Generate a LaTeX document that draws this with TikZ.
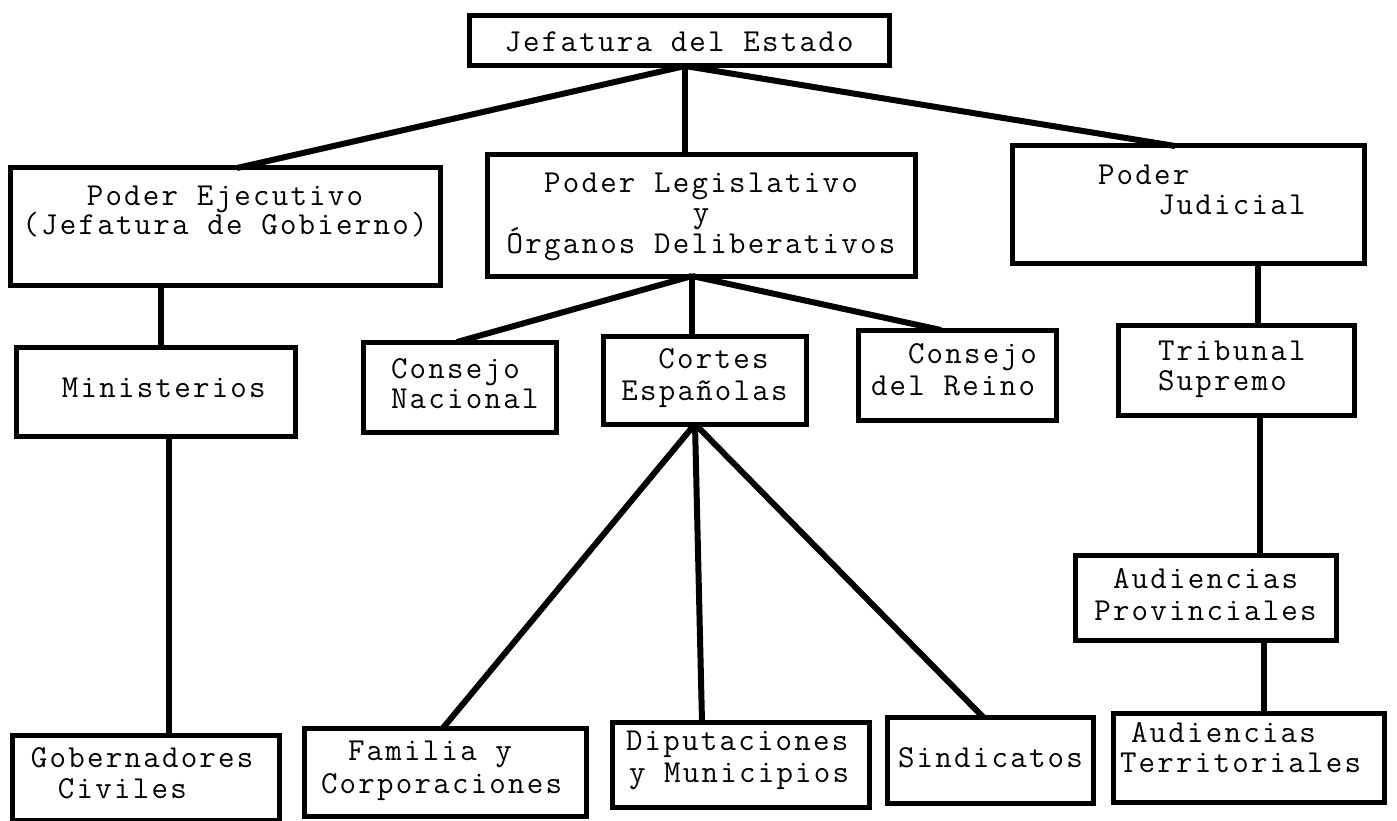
\documentclass[tikz,border=0pt]{standalone}
\usepackage{fontspec}
\newfontfamily\tw[LetterSpace=7]{Latin Modern Mono}
\newcommand\bt[4]{\parbox[c][#2pt][t]{#1pt}{\lineskiplimit=-1000pt\vspace*{#3pt}#4}}
\newcommand\fs{\rule{0pt}{26pt}}
\begin{document}
\begin{tikzpicture}[x=1pt,y=-1pt,
 box/.style={draw,line width=5pt,inner sep=0pt,outer sep=0pt,font=\tw\fontsize{32}{31}\selectfont},
 conn/.style={line width=6pt}]
\fill[white] (0,0) rectangle (1397,821);
\useasboundingbox (0,0) rectangle (1397,821);

\node[box] (jef) at (679,41) {\bt{420}{50}{10}{\centering\fs Jefatura del Estado}};
\node[box] (eje) at (225,226.5) {\bt{430}{117}{11}{\centering\fs Poder Ejecutivo\\[-2pt](Jefatura de Gobierno)}};
\node[box] (leg) at (701,215.5) {\bt{428}{121}{12}{\centering\fs Poder Legislativo\\[-1pt]y\\Órganos Deliberativos}};
\node[box] (jud) at (1188,204.5) {\bt{352}{117}{13}{\fs\hspace*{86pt}Poder\\[-1pt]\hspace*{146pt}Judicial}};
\node[box] (min) at (155.5,391.5) {\bt{279}{89}{24}{\fs\hspace*{46pt}Ministerios}};
\node[box] (gob) at (145.5,777.5) {\bt{267}{85}{6}{\fs\hspace*{19pt}Gobernadores\\\hspace*{46pt}Civiles}};
\node[box] (cn) at (459.5,387) {\bt{193}{90}{10}{\fs\hspace*{28pt}Consejo\\[-1pt]\hspace*{28pt}Nacional}};
\node[box] (ce) at (704.5,380) {\bt{203}{88}{6}{\centering\fs\hspace*{18pt}Cortes\\[1pt]Españolas}};
\node[box] (cr) at (957,375) {\bt{198}{90}{7}{\fs\hspace*{50pt}Consejo\\[1pt]\hspace*{13pt}del Reino}};
\node[box] (ts) at (1236,370) {\bt{236}{90}{9}{\fs\hspace*{40pt}Tribunal\\[-1pt]\hspace*{40pt}Supremo}};
\node[box] (ap) at (1205.5,597.5) {\bt{261}{85}{7}{\centering\fs Audiencias\\[1pt]Provinciales}};
\node[box] (fc) at (445,772) {\bt{282}{88}{6}{\fs\hspace*{44pt}Familia y\\[2pt]\hspace*{17pt}Corporaciones}};
\node[box] (dm) at (740.5,764.5) {\bt{257}{85}{2}{\fs\hspace*{14pt}Diputaciones\\[1pt]\hspace*{17pt}y Municipios}};
\node[box] (sin) at (990,760) {\bt{206}{86}{24}{\fs\hspace*{11pt}Sindicatos}};
\node[box] (aterr) at (1248.5,757.5) {\bt{271}{89}{3}{\fs\hspace*{18pt}Audiencias\\[-1pt]\hspace*{7pt}Territoriales}};

\coordinate (J) at ([xshift=6pt]jef.south);
\draw[conn] (J) -- ([xshift=12pt]eje.north);
\draw[conn] (J) -- (J |- leg.north);
\draw[conn] (J) -- ([xshift=-13pt]jud.north);
\coordinate (E) at ([xshift=-64pt]eje.south);
\draw[conn] (E) -- (E |- min.north);
\coordinate (M) at ([xshift=13pt]min.south);
\draw[conn] (M) -- (M |- gob.north);
\coordinate (L) at ([xshift=-9pt]leg.south);
\draw[conn] (L) -- ([xshift=-2.5pt]cn.north);
\draw[conn] (L) -- (L |- ce.north);
\draw[conn] (L) -- ([xshift=-16pt]cr.north);
\coordinate (C) at ([xshift=-9.5pt]ce.south);
\draw[conn] (C) -- ([xshift=-2pt]fc.north);
\draw[conn] (C) -- ([xshift=-38.5pt]dm.north);
\draw[conn] (C) -- ([xshift=-7pt]sin.north);
\coordinate (T) at ([xshift=70pt]jud.south);
\draw[conn] (T) -- (T |- ts.north);
\coordinate (S) at ([xshift=24pt]ts.south);
\draw[conn] (S) -- (S |- ap.north);
\coordinate (P) at ([xshift=58.5pt]ap.south);
\draw[conn] (P) -- (P |- aterr.north);
\end{tikzpicture}
\end{document}
